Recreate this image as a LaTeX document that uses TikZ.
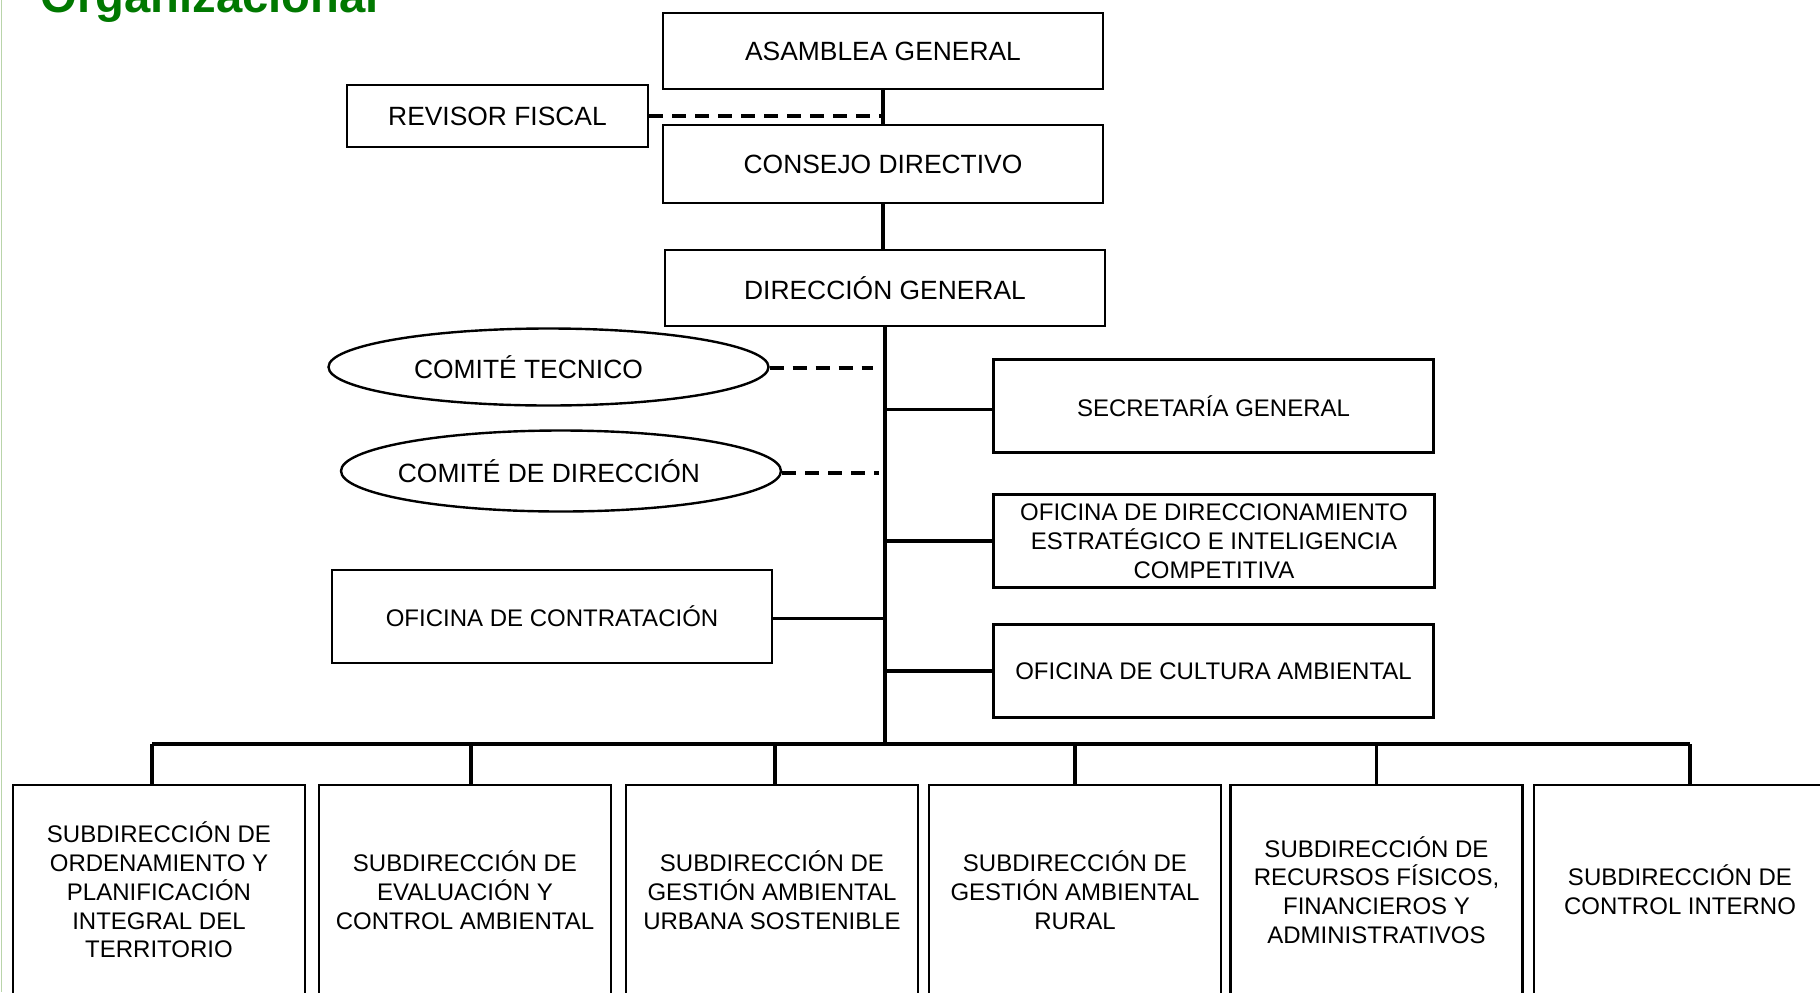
\documentclass[tikz,border=0pt]{standalone}
\usepackage{fontspec}
\setmainfont{Liberation Sans}
\usetikzlibrary{shapes.geometric}
\definecolor{titlegreen}{RGB}{0,120,0}
\definecolor{edgegreen}{RGB}{185,212,170}
\begin{document}
\begin{tikzpicture}[x=0.5bp,y=-0.5bp,
  box/.style={draw, line width=1.2bp, inner sep=0pt, minimum width=220bp, minimum height=38bp, align=center, font=\fontsize{13.2bp}{15bp}\selectfont},
  mbox/.style={draw, line width=1.2bp, inner sep=0pt, minimum width=220bp, minimum height=46.5bp, align=center, font=\fontsize{12bp}{14.4bp}\selectfont},
  sbox/.style={draw, line width=1.2bp, inner sep=0pt, minimum width=146bp, minimum height=105bp, align=center, font=\fontsize{12bp}{14.4bp}\selectfont},
  oval/.style={ellipse, draw, line width=1.2bp, inner sep=0pt, minimum width=220bp},
  ovaltext/.style={font=\fontsize{13.2bp}{15bp}\selectfont},
  link/.style={line width=1.6bp},
  dlink/.style={line width=1.8bp, dash pattern=on 7bp off 4.5bp},
]
\useasboundingbox (0,0) rectangle (1820,992);
\clip (0,0) rectangle (1820,992);
\fill[white] (0,0) rectangle (1820,992);
\draw[edgegreen, line width=0.8bp] (1.5,0) -- (1.5,992);

\node[anchor=base west, text=titlegreen, font=\bfseries\fontsize{23.6bp}{26bp}\selectfont, inner sep=0pt] (title) at (40,12) {Organizacional};

\node[box] (asam) at (883,51) {ASAMBLEA GENERAL};
\node[box, minimum width=150.5bp, minimum height=31bp] (rev) at (497.5,116) {REVISOR FISCAL};
\node[box, minimum height=39bp] (cons) at (883,164) {CONSEJO DIRECTIVO};
\node[box] (dir) at (885,288) {DIRECCIÓN GENERAL};

\node[oval, minimum height=38.5bp, label={[ovaltext, xshift=-10bp]center:COMITÉ TECNICO}] (ct) at (548.5,367) {};
\node[oval, minimum height=40.5bp, label={[ovaltext, xshift=-6bp]center:COMITÉ DE DIRECCIÓN}] (cd) at (561,471) {};

\node[mbox] (sec) at (1213.5,406) {SECRETARÍA GENERAL};
\node[mbox, minimum width=220.5bp] (ode) at (1214,541) {OFICINA DE DIRECCIONAMIENTO\\ESTRATÉGICO E INTELIGENCIA\\COMPETITIVA};
\node[mbox] (oca) at (1213.5,671) {OFICINA DE CULTURA AMBIENTAL};
\node[mbox] (oco) at (552,616.4) {OFICINA DE CONTRATACIÓN};

\node[sbox] (s1) at (159,890) {SUBDIRECCIÓN DE\\ORDENAMIENTO Y\\PLANIFICACIÓN\\INTEGRAL DEL\\TERRITORIO};
\node[sbox] (s2) at (465,890) {SUBDIRECCIÓN DE\\EVALUACIÓN Y\\CONTROL AMBIENTAL};
\node[sbox] (s3) at (772,890) {SUBDIRECCIÓN DE\\GESTIÓN AMBIENTAL\\URBANA SOSTENIBLE};
\node[sbox] (s4) at (1075,890) {SUBDIRECCIÓN DE\\GESTIÓN AMBIENTAL\\RURAL};
\node[sbox] (s5) at (1376.5,890) {SUBDIRECCIÓN DE\\RECURSOS FÍSICOS,\\FINANCIEROS Y\\ADMINISTRATIVOS};
\node[sbox] (s6) at (1680,890) {SUBDIRECCIÓN DE\\CONTROL INTERNO};

% vertical chain
\draw[link] (asam.south) -- (cons.north);
\draw[link] (cons.south) -- (cons.south |- dir.north);
\draw[dlink] (rev.east) -- (rev.east -| asam.south);

% bus
\coordinate (busL) at (152,744);
\coordinate (busR) at (1690,744);
\draw[link] (dir.south) -- (dir.south |- busL);
\draw[line width=1.9bp] (busL) -- (busR);

% side branches
\draw[link] ([yshift=-1.8bp]sec.west) -- ([yshift=-1.8bp]sec.west -| dir.south);
\draw[link] (ode.west) -- (ode.west -| dir.south);
\draw[link] (oca.west) -- (oca.west -| dir.south);
\draw[link] ([yshift=-1bp]oco.east) -- ([yshift=-1bp]oco.east -| dir.south);

% committees
\coordinate (ctend) at (873,368);
\coordinate (cdend) at (879,473);
\draw[dlink] (ct.east |- ctend) -- (ctend);
\draw[dlink] (cd.east |- cdend) -- (cdend);

% drops
\draw[link] ([xshift=-3.5bp]s1.north) -- ([xshift=-3.5bp]s1.north |- busL);
\draw[link] ([xshift=3bp]s2.north) -- ([xshift=3bp]s2.north |- busL);
\draw[link] ([xshift=1.5bp]s3.north) -- ([xshift=1.5bp]s3.north |- busL);
\draw[link] (s4.north) -- (s4.north |- busL);
\draw[link] (s5.north) -- (s5.north |- busL);
\draw[link] ([xshift=5bp]s6.north) -- ([xshift=5bp]s6.north |- busR);
\end{tikzpicture}
\end{document}
